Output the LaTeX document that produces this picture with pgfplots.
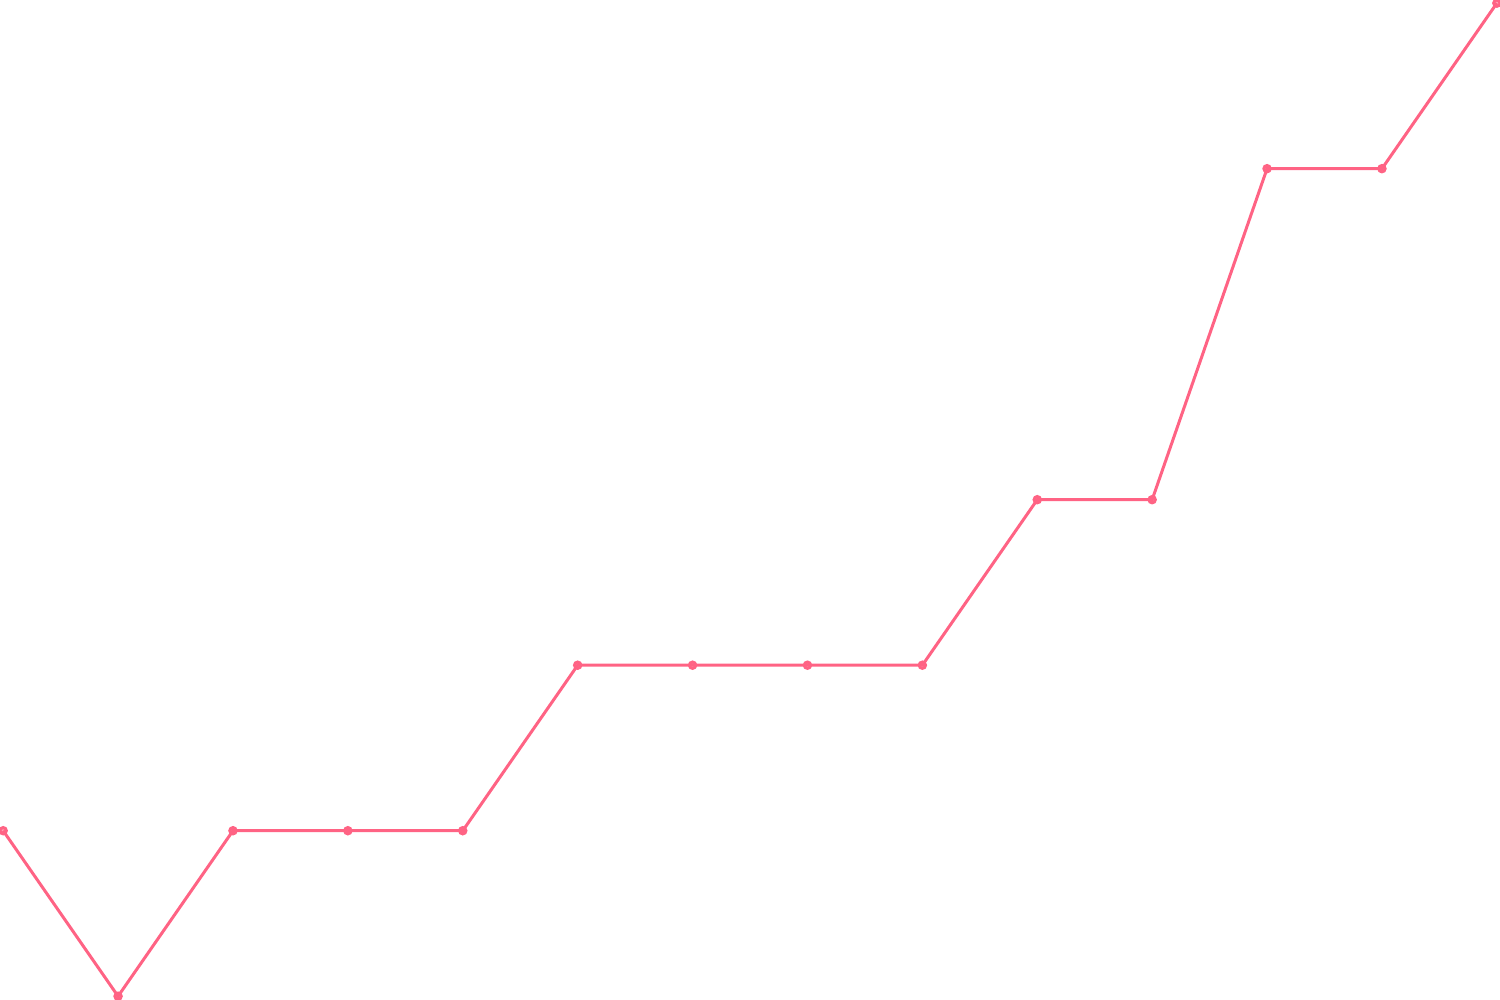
\documentclass[border=0pt]{standalone}
\usepackage{pgfplots}
\pgfplotsset{compat=1.18}
\definecolor{linered}{HTML}{FF6384}
\begin{document}
\begin{tikzpicture}
\begin{axis}[
  width=15cm, height=10cm, scale only axis,
  hide axis,
  xmin=-0.0437, xmax=13.052,
  ymin=-0.0303, ymax=6.0303,
]
\addplot[color=linered, line width=0.85pt, mark=*, mark size=0.9pt,
  mark options={fill=linered, fill opacity=0.6, draw=linered}] coordinates {
  (0,1) (1,0) (2,1) (3,1) (4,1) (5,2) (6,2) (7,2) (8,2) (9,3) (10,3) (11,5) (12,5) (13,6)
};
\end{axis}
\end{tikzpicture}
\end{document}
